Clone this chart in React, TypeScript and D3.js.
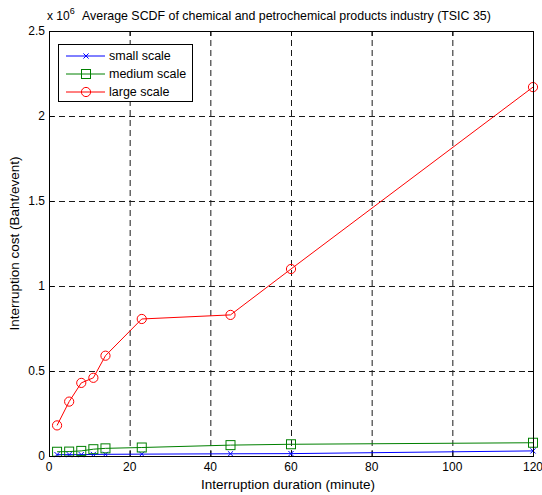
import React, { useEffect, useRef } from 'react'
import * as d3 from 'd3'

const durations = [2, 5, 8, 11, 14, 23, 45, 60, 120]
const smallScale = [0.008, 0.008, 0.008, 0.009, 0.01, 0.011, 0.013, 0.014, 0.03]
const mediumScale = [0.025, 0.026, 0.03, 0.04, 0.045, 0.05, 0.064, 0.069, 0.078]
const largeScale = [0.18, 0.32, 0.43, 0.46, 0.59, 0.806, 0.83, 1.1, 2.17]
const xTicks = [0, 20, 40, 60, 80, 100, 120]
const yTicks = [0, 0.5, 1, 1.5, 2, 2.5]
const seriesNames = ['small scale', 'medium scale', 'large scale']
const seriesColors = ['#0000ff', '#008000', '#ff0000']

const W = 542
const H = 495
const left = 49, right = 533, top = 31, bottom = 456
const font = 'Liberation Sans, Arial, sans-serif'

function drawMarker(g: any, kind: number, cx: number, cy: number, color: string) {
  if (kind === 0) {
    const s = 2.6
    g.append('path')
      .attr('d', `M${cx - s},${cy - s}L${cx + s},${cy + s}M${cx - s},${cy + s}L${cx + s},${cy - s}`)
      .attr('stroke', color).attr('stroke-width', 1).attr('fill', 'none')
  } else if (kind === 1) {
    g.append('rect')
      .attr('x', cx - 4.5).attr('y', cy - 4.5).attr('width', 9).attr('height', 9)
      .attr('stroke', color).attr('stroke-width', 1).attr('fill', 'none')
  } else {
    g.append('circle')
      .attr('cx', cx).attr('cy', cy).attr('r', 4.6)
      .attr('stroke', color).attr('stroke-width', 1).attr('fill', 'none')
  }
}

export default function App() {
  const ref = useRef<SVGSVGElement>(null)

  useEffect(() => {
    const svg = d3.select(ref.current)
    svg.selectAll('*').remove()

    const x = d3.scaleLinear().domain([0, 120]).range([left, right])
    const y = d3.scaleLinear().domain([0, 2.5]).range([bottom, top])

    svg.append('rect').attr('width', W).attr('height', H).attr('fill', '#fff')

    // grid
    const grid = svg.append('g')
      .attr('stroke', '#1a1a1a').attr('stroke-width', 1).attr('stroke-dasharray', '6,4')
    xTicks.slice(1, -1).forEach(t => {
      grid.append('line').attr('x1', x(t) + 0.5).attr('x2', x(t) + 0.5).attr('y1', bottom).attr('y2', top)
    })
    yTicks.slice(1, -1).forEach(t => {
      grid.append('line').attr('y1', y(t) + 0.5).attr('y2', y(t) + 0.5).attr('x1', left).attr('x2', right)
    })

    // tick marks (inward, all four sides)
    const ticks = svg.append('g').attr('stroke', '#000').attr('stroke-width', 1)
    xTicks.forEach(t => {
      ticks.append('line').attr('x1', x(t) + 0.5).attr('x2', x(t) + 0.5).attr('y1', bottom).attr('y2', bottom - 5)
      ticks.append('line').attr('x1', x(t) + 0.5).attr('x2', x(t) + 0.5).attr('y1', top).attr('y2', top + 5)
    })
    yTicks.forEach(t => {
      ticks.append('line').attr('y1', y(t) + 0.5).attr('y2', y(t) + 0.5).attr('x1', left).attr('x2', left + 5)
      ticks.append('line').attr('y1', y(t) + 0.5).attr('y2', y(t) + 0.5).attr('x1', right).attr('x2', right - 5)
    })

    const allSeries = [smallScale, mediumScale, largeScale]
    const line = d3.line<number>().x((d, i) => x(durations[i])).y(d => y(d))
    allSeries.forEach((vals, k) => {
      const g = svg.append('g')
      g.append('path').datum(vals).attr('d', line).attr('fill', 'none')
        .attr('stroke', seriesColors[k]).attr('stroke-width', 1)
      vals.forEach((v, i) => drawMarker(g, k, x(durations[i]), y(v), seriesColors[k]))
    })

    // axes box
    svg.append('rect').attr('x', left + 0.5).attr('y', top + 0.5)
      .attr('width', right - left).attr('height', bottom - top)
      .attr('fill', 'none').attr('stroke', '#000').attr('stroke-width', 1)

    // tick labels
    const labels = svg.append('g').attr('font-family', font).attr('font-size', 12).attr('fill', '#000')
    xTicks.forEach(t => {
      labels.append('text').attr('x', x(t)).attr('y', bottom + 15).attr('text-anchor', 'middle').text(t)
    })
    yTicks.forEach(t => {
      labels.append('text').attr('x', left - 4).attr('y', y(t) + 4).attr('text-anchor', 'end').text(t)
    })

    // exponent + title
    const ex = labels.append('text').attr('x', left - 2).attr('y', 20)
    ex.append('tspan').text('x 10')
    ex.append('tspan').attr('font-size', 9).attr('dy', -6).text('6')
    labels.append('text').attr('x', 82).attr('y', 20).attr('font-size', 12.4)
      .text('Average SCDF of chemical and petrochemical products industry (TSIC 35)')

    labels.append('text').attr('x', 288).attr('y', 489).attr('text-anchor', 'middle')
      .attr('font-size', 13.5).text('Interruption duration (minute)')
    labels.append('text').attr('transform', `translate(19,${(top + bottom) / 2}) rotate(-90)`)
      .attr('text-anchor', 'middle').attr('font-size', 13.5).text('Interruption cost (Baht/event)')

    // legend
    const lg = svg.append('g')
    lg.append('rect').attr('x', 58.5).attr('y', 44.5).attr('width', 134).attr('height', 57)
      .attr('fill', '#fff').attr('stroke', '#000').attr('stroke-width', 1)
    seriesNames.forEach((name, k) => {
      const cy = 56 + k * 18
      lg.append('line').attr('x1', 66).attr('x2', 105).attr('y1', cy).attr('y2', cy)
        .attr('stroke', seriesColors[k]).attr('stroke-width', 1)
      drawMarker(lg, k, 86, cy, seriesColors[k])
      lg.append('text').attr('x', 109).attr('y', cy + 4).attr('font-family', font)
        .attr('font-size', 12.5).text(name)
    })
  }, [])

  return <svg ref={ref} width={W} height={H}
    style={{ position: 'absolute', left: 0, top: 0, display: 'block' }} />
}
